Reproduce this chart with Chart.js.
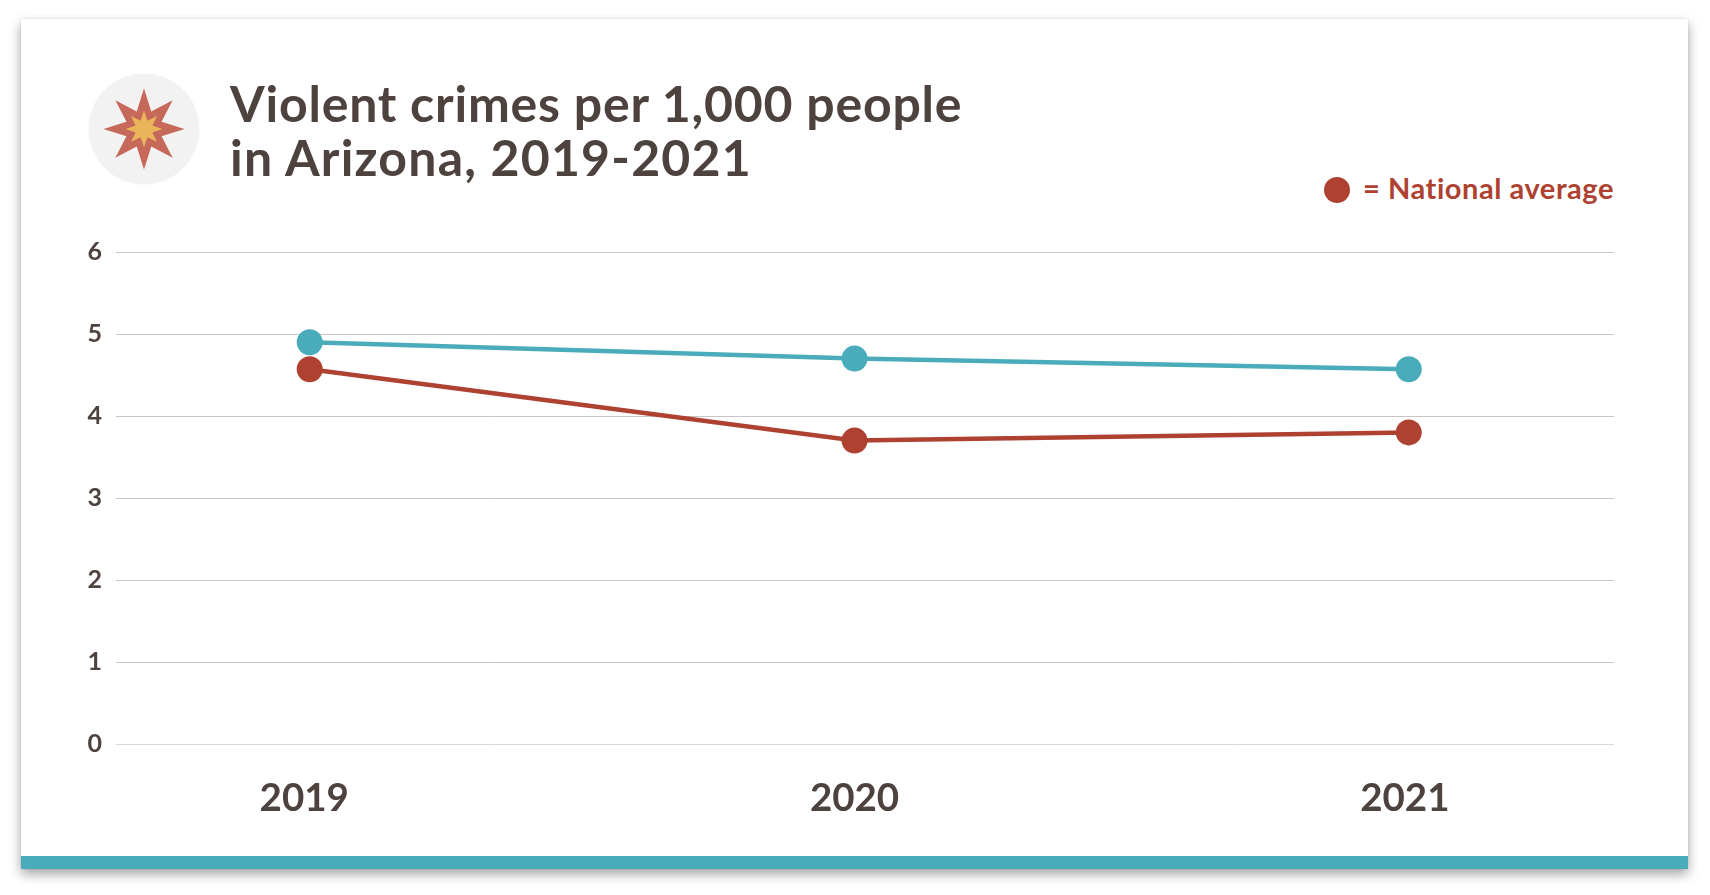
<!DOCTYPE html>
<html>
<head>
<meta charset="utf-8">
<title>Violent crimes per 1,000 people in Arizona</title>
<script src="https://cdn.jsdelivr.net/npm/chart.js@4"></script>
<style>
  html, body { margin: 0; padding: 0; width: 1710px; height: 895px; background: #fff; overflow: hidden; }
  body { font-family: Lato, "Open Sans", sans-serif; color: #4e423e; }
  .card {
    position: absolute; left: 21px; top: 19px; width: 1667px; height: 850px;
    background: #fff; box-shadow: 0 5px 11px rgba(0, 0, 0, .36), 0 0 2px rgba(0, 0, 0, .1);
  }
  .card .bar { position: absolute; left: 0; right: 0; bottom: 0; height: 13px; background: #4aacbb; }
  #icon { position: absolute; left: 88px; top: 73px; }
  h1 {
    position: absolute; left: 230px; top: 76px; margin: 0;
    font-size: 50px; line-height: 54px; font-weight: 700; white-space: nowrap; letter-spacing: .78px;
  }
  h1 span { letter-spacing: 1.2px; }
  .legend {
    position: absolute; right: 96px; top: 170px; height: 36px; line-height: 36px;
    font-size: 29px; font-weight: 700; color: #ae4130; white-space: nowrap; letter-spacing: .55px;
  }
  .legend i {
    position: absolute; left: -39px; top: 7px; width: 26px; height: 26px;
    border-radius: 50%; background: #ae4130;
  }
  #chart { position: absolute; left: 0; top: 0; }
</style>
</head>
<body>
<div class="card"><div class="bar"></div></div>
<svg id="icon" width="112" height="112" viewBox="-56 -56 112 112">
  <circle r="55.5" fill="#f2f2f2"></circle>
  <polygon id="starOuter" fill="#c7695a"></polygon>
  <polygon id="starInner" fill="#eab55a"></polygon>
</svg>
<h1>Violent crimes per 1,000 people<br><span>in Arizona, 2019-2021</span></h1>
<div class="legend"><i></i>= National average</div>
<canvas id="chart" width="1710" height="895"></canvas>

<script>
// data
const years = [2019, 2020, 2021];
const xPositions = [2019.01, 2020, 2021.007];
const arizona = [4.9, 4.7, 4.57];
const national = [4.57, 3.7, 3.8];
const yTicks = [0, 1, 2, 3, 4, 5, 6];

const TEAL = '#4aacbb';
const RED = '#ae4130';
const TEXT = '#4e423e';

function starPoints(outer, inner) {
    const pts = [];
    for (let i = 0; i < 16; i++) {
        const r = i % 2 ? inner : outer;
        const a = i * Math.PI / 8;
        pts.push((r * Math.sin(a)).toFixed(2) + ',' + (-r * Math.cos(a)).toFixed(2));
    }
    return pts.join(' ');
}
document.getElementById('starOuter').setAttribute('points', starPoints(40.5, 19));
document.getElementById('starInner').setAttribute('points', starPoints(18.5, 9));

function toPoints(values) {
    return values.map((v, i) => ({ x: xPositions[i], y: v }));
}

function lineDataset(label, values, color) {
    return {
        label: label,
        data: toPoints(values),
        borderColor: color,
        backgroundColor: color,
        borderWidth: 4.5,
        pointRadius: 13,
        pointHoverRadius: 13,
        pointBorderWidth: 0,
        tension: 0
    };
}

new Chart(document.getElementById('chart'), {
    type: 'line',
    data: {
        datasets: [
            lineDataset('National average', national, RED),
            lineDataset('Arizona', arizona, TEAL)
        ]
    },
    options: {
        responsive: false,
        animation: false,
        events: [],
        layout: { autoPadding: false, padding: { top: 252, right: 96, left: 0, bottom: 0 } },
        plugins: { legend: { display: false }, tooltip: { enabled: false } },
        scales: {
            x: {
                type: 'linear',
                min: 2018.658,
                max: 2021.38,
                afterFit: (scale) => { scale.height = 151; },
                grid: { display: false },
                border: { display: false },
                ticks: {
                    includeBounds: false,
                    stepSize: 1,
                    padding: 23,
                    color: TEXT,
                    font: { family: 'Lato', size: 38.5, weight: '700' },
                    callback: (v) => years.includes(v) ? String(v) : ''
                }
            },
            y: {
                min: yTicks[0],
                max: yTicks[yTicks.length - 1],
                afterFit: (scale) => { scale.width = 116; },
                grid: {
                    drawTicks: false,
                    lineWidth: 1,
                    color: (ctx) => ctx.tick.value === 0 ? '#dcd6d8' : '#c9c5c5'
                },
                border: { display: false },
                ticks: {
                    stepSize: 1,
                    padding: 14,
                    color: TEXT,
                    font: { family: 'Lato', size: 25, weight: '700' }
                }
            }
        }
    }
});
</script>
</body>
</html>
